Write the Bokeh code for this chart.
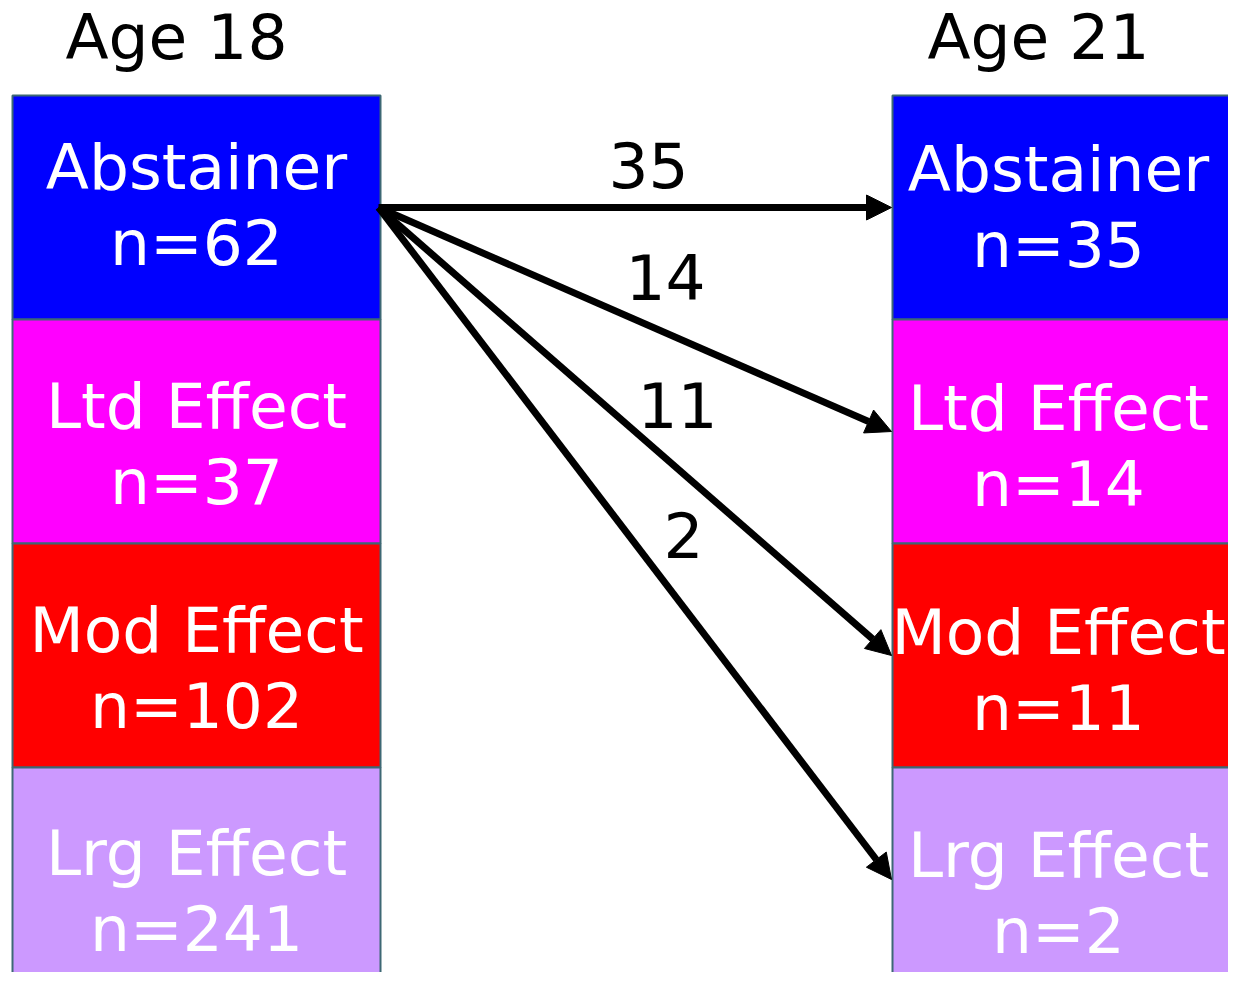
from bokeh.plotting import figure
from bokeh.models import Range1d, Arrow, NormalHead
from bokeh.embed import file_html
from bokeh.resources import INLINE
from bokeh.core.properties import value

# ---- data ----
categories = ["Abstainer", "Ltd Effect", "Mod Effect", "Lrg Effect"]
n_age18 = [62, 37, 102, 241]
n_age21 = [35, 14, 11, 2]
flow_source = "Abstainer"
flow_targets = ["Abstainer", "Ltd Effect", "Mod Effect", "Lrg Effect"]
flow_counts = [35, 14, 11, 2]
column_titles = ["Age 18", "Age 21"]

# ---- styles / layout ----
colors = ["#0000ff", "#ff00ff", "#ff0000", "#cc99ff"]
border_color = "#3d6874"
FONT = "DejaVu Sans"
FS = "63px"
TXT_CORR = -21          # baseline correction for rendered text
col_left = [12, 892]
col_right = [380, 1240]
col_text_x = [196, 1058]
top0 = 95
row_h = 224
name_dy = [-19, -4, -4, -5]
line_gap = 76
col_text_shift = [0, 2]
title_x = [176, 1038]
title_y = 58
label_x = [648, 665, 677, 683]
label_y = [185, 297, 425, 555]
arrow_tip_x = 891

p = figure(width=1228, height=972, x_range=Range1d(0, 1228), y_range=Range1d(972, 0),
           output_backend="svg", toolbar_location=None, min_border=0)
p.axis.visible = False
p.grid.visible = False
p.outline_line_color = None
p.background_fill_color = "white"
p.border_fill_color = "white"

row_centers = [top0 + row_h * (i + 0.5) for i in range(len(categories))]
nc = len(categories)

for c, counts in enumerate([n_age18, n_age21]):
    tops = [top0 + row_h * i for i in range(nc)]
    bottoms = [t + row_h for t in tops]
    p.quad(left=[col_left[c]] * nc, right=[col_right[c]] * nc,
           top=tops, bottom=bottoms, fill_color=colors, line_color=border_color, line_width=2)
    cx = col_text_x[c]
    ny = [row_centers[i] + name_dy[i] + col_text_shift[c] + TXT_CORR for i in range(nc)]
    p.text(x=[cx] * nc, y=ny, text=categories, text_color="white",
           text_font=value(FONT), text_font_size=FS, text_align="center", text_baseline="alphabetic")
    p.text(x=[cx] * nc, y=[v + line_gap for v in ny], text=[f"n={v}" for v in counts],
           text_color="white", text_font=value(FONT), text_font_size=FS,
           text_align="center", text_baseline="alphabetic")

p.text(x=title_x, y=[title_y + TXT_CORR] * 2, text=column_titles, text_color="black",
       text_font=value(FONT), text_font_size=FS, text_align="center", text_baseline="alphabetic")

src_y = row_centers[categories.index(flow_source)]
for tgt in flow_targets:
    ty = row_centers[categories.index(tgt)]
    p.add_layout(Arrow(x_start=col_right[0] - 2, y_start=src_y, x_end=arrow_tip_x, y_end=ty,
                       line_width=7, line_color="black",
                       end=NormalHead(size=25, fill_color="black", line_color="black", line_width=1)))

p.text(x=label_x, y=[v + TXT_CORR for v in label_y], text=[str(v) for v in flow_counts],
       text_color="black", text_font=value(FONT), text_font_size=FS,
       text_align="center", text_baseline="alphabetic")

open("out.html", "w").write(file_html(p, INLINE))
